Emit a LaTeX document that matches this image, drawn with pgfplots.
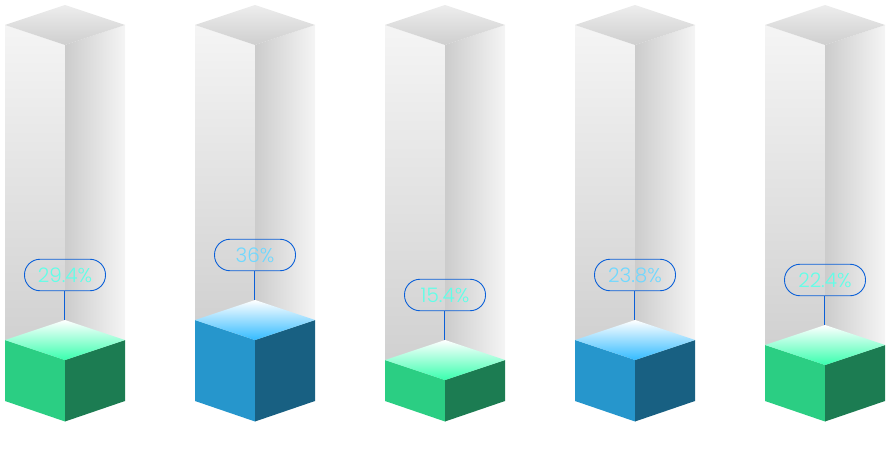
\documentclass[border=0pt]{standalone}
\usepackage{pgfplots}
\pgfplotsset{compat=1.18}
\usepackage{fontspec}
\setmainfont{Poppins}[UprightFont=* Light]
\definecolor{grnL}{HTML}{2BCE83}
\definecolor{grnR}{HTML}{1C7C52}
\definecolor{grnT}{HTML}{38FFAE}
\definecolor{bluL}{HTML}{2696CC}
\definecolor{bluR}{HTML}{186082}
\definecolor{bluT}{HTML}{33BBFF}
\definecolor{grnTx}{HTML}{60FFE8}
\definecolor{bluTx}{HTML}{70D8FF}
\definecolor{lineC}{HTML}{0B60D8}
\newcommand{\column}[9]{%
  \addplot[draw=none,forget plot,top color=black!4,bottom color=black!19]
    coordinates {(#1,25)(#1,#5)(#2,#6)(#2,45)} -- cycle;
  \addplot[draw=none,forget plot,left color=black!20,right color=black!4]
    coordinates {(#2,45)(#2,#6)(#3,#5)(#3,25)} -- cycle;
  \addplot[draw=none,forget plot,top color=black!7,bottom color=black!19]
    coordinates {(#1,25)(#2,5)(#3,25)(#2,45)} -- cycle;
  \addplot[draw=none,forget plot,fill=#8L]
    coordinates {(#1,#5)(#2,#6)(#2,421.5)(#1,#7)} -- cycle;
  \addplot[draw=none,forget plot,fill=#8R]
    coordinates {(#2,#6)(#3,#5)(#3,#7)(#2,421.5)} -- cycle;
  \addplot[draw=none,forget plot,top color=white,bottom color=#8T]
    coordinates {(#1,#5)(#2,#4)(#3,#5)(#2,#6)} -- cycle;
  #9}
\newcommand{\pill}[7]{%
  \addplot[draw=lineC,line width=1.1pt,forget plot,mark=none] coordinates {(#7,#2)(#7,#6)};
  \addplot[draw=none,forget plot,mark=none,nodes near coords={#4},
    nodes near coords style={anchor=center,draw=lineC,line width=0.9pt,rounded corners=15.5pt,
      minimum width=81pt,minimum height=31.5pt,inner sep=0pt,text=#5,
      font=\fontsize{20}{22}\selectfont}]
    coordinates {(#1,#3)};}
\begin{document}
\begin{tikzpicture}
\begin{axis}[
  x=1pt,y=1pt,scale only axis,width=890pt,height=470pt,
  xmin=0,xmax=890,ymin=0,ymax=470,y dir=reverse,
  hide axis,clip=false]
\addplot[draw=none,forget plot] coordinates {(0,0)(890,470)};
\column{5}{65}{125}{320}{340}{360}{401}{grn}{\pill{65}{320}{275}{29.4\%}{grnTx}{291}{64.5}}
\column{195}{255}{315}{300}{320}{340}{401}{blu}{\pill{255}{300}{255}{36\%}{bluTx}{271}{254.5}}
\column{385}{445}{505}{340}{360}{380}{401}{grn}{\pill{445}{340}{295}{15.4\%}{grnTx}{311}{444.5}}
\column{575}{635}{695}{320}{340}{360}{401}{blu}{\pill{635}{320}{275}{23.8\%}{bluTx}{291}{634.5}}
\column{765}{825}{885}{325}{345}{365}{401}{grn}{\pill{825}{325}{280}{22.4\%}{grnTx}{296}{824.5}}
\end{axis}
\end{tikzpicture}
\end{document}
